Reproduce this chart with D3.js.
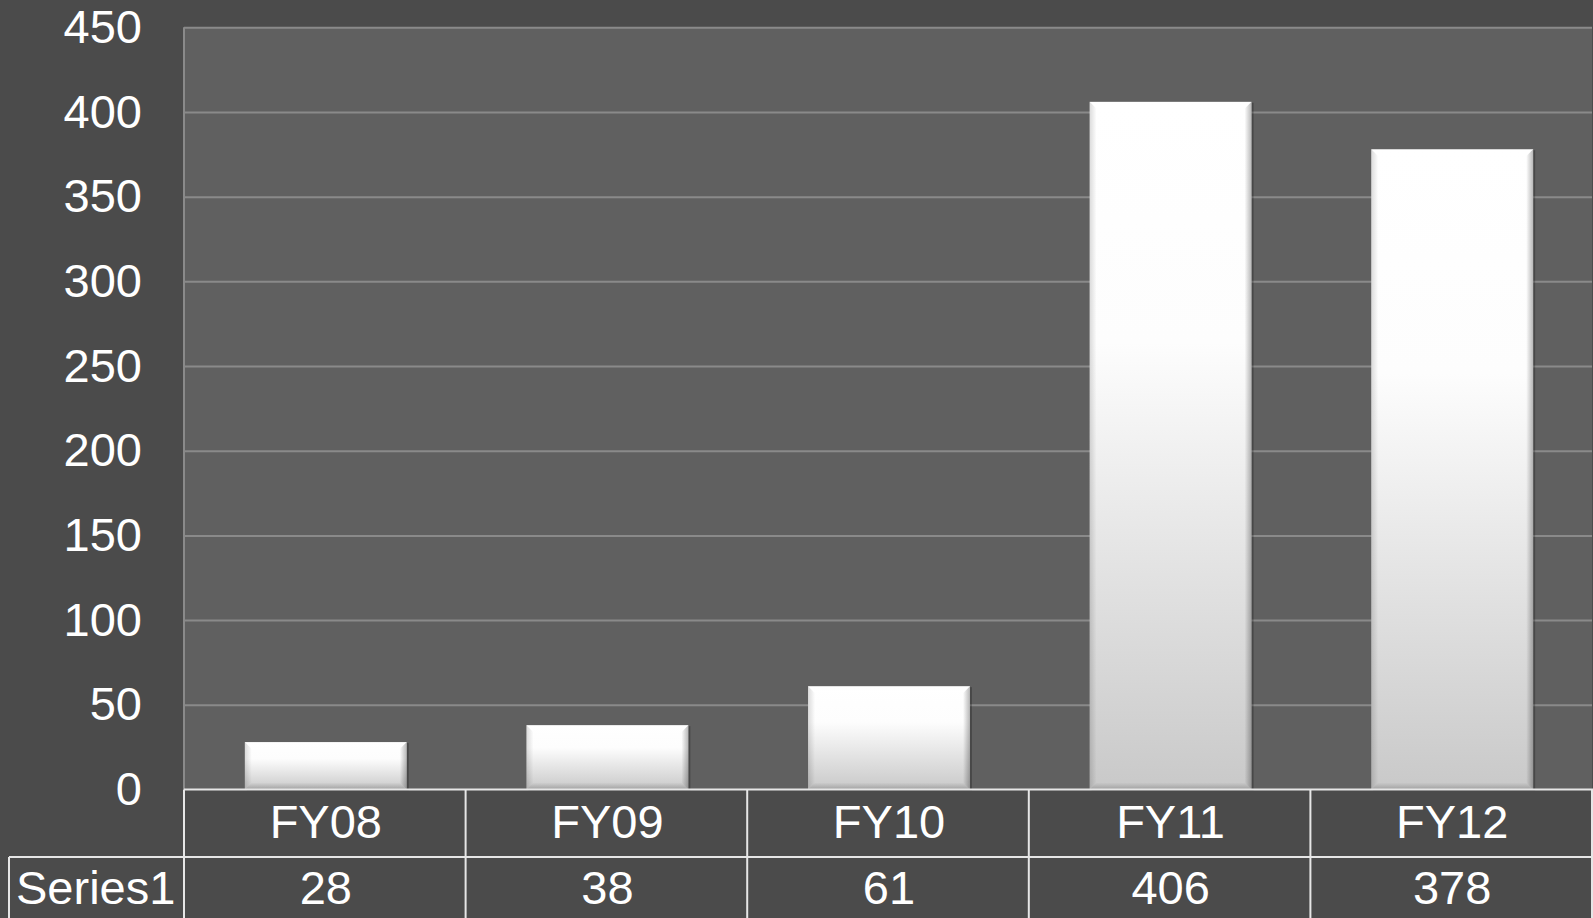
<!DOCTYPE html>
<html>
<head>
<meta charset="utf-8">
<script src="https://cdn.jsdelivr.net/npm/d3@7"></script>
<style>
  html, body { margin: 0; padding: 0; background: #4b4b4b; overflow: hidden; }
  svg { display: block; font-family: "Liberation Sans", Arial, sans-serif; }
</style>
</head>
<body>
<svg id="chart" width="1593" height="918"></svg>
<script>
// chart data
const categories = ['FY08', 'FY09', 'FY10', 'FY11', 'FY12'];
const values = [28, 38, 61, 406, 378];
const seriesName = 'Series1';
const yTicks = [0, 50, 100, 150, 200, 250, 300, 350, 400, 450];

const W = 1593, H = 918;
const plot = { left: 184, right: 1592, top: 27.3, bottom: 789.5 };
const tableRow = 67.5; // height of each table row

const svg = d3.select('#chart');

// background
svg.append('rect').attr('width', W).attr('height', H).attr('fill', '#4b4b4b');

const defs = svg.append('defs');
const grad = defs.append('linearGradient').attr('id', 'barFill')
  .attr('x1', 0).attr('y1', 0).attr('x2', 0).attr('y2', 1);
grad.append('stop').attr('offset', '0%').attr('stop-color', '#ffffff');
grad.append('stop').attr('offset', '35%').attr('stop-color', '#fdfdfd');
grad.append('stop').attr('offset', '100%').attr('stop-color', '#c9c9c9');

const sideL = defs.append('linearGradient').attr('id', 'sideL');
sideL.append('stop').attr('offset', '0%').attr('stop-color', '#000').attr('stop-opacity', 0.14);
sideL.append('stop').attr('offset', '100%').attr('stop-color', '#000').attr('stop-opacity', 0);
const sideR = defs.append('linearGradient').attr('id', 'sideR');
sideR.append('stop').attr('offset', '0%').attr('stop-color', '#000').attr('stop-opacity', 0);
sideR.append('stop').attr('offset', '100%').attr('stop-color', '#000').attr('stop-opacity', 0.28);
const sideB = defs.append('linearGradient').attr('id', 'sideB')
  .attr('x1', 0).attr('y1', 0).attr('x2', 0).attr('y2', 1);
sideB.append('stop').attr('offset', '0%').attr('stop-color', '#000').attr('stop-opacity', 0);
sideB.append('stop').attr('offset', '100%').attr('stop-color', '#000').attr('stop-opacity', 0.2);

// scales
const x = d3.scaleBand().domain(categories)
  .range([plot.left + 1, plot.right + 1]).paddingInner(0.425).paddingOuter(0.2125);
const y = d3.scaleLinear().domain([0, 450]).range([plot.bottom, plot.top]);

// plot area
svg.append('rect')
  .attr('x', plot.left).attr('y', plot.top)
  .attr('width', plot.right - plot.left).attr('height', plot.bottom - plot.top)
  .attr('fill', '#606060');

// gridlines
svg.append('g')
  .attr('transform', `translate(${plot.left},0)`)
  .call(d3.axisLeft(y).tickValues(yTicks.slice(1)).tickSize(-(plot.right - plot.left)).tickFormat(''))
  .call(g => g.select('.domain').remove())
  .call(g => g.selectAll('line').attr('stroke', '#8a8a8a').attr('stroke-width', 2));

// left plot border
svg.append('line')
  .attr('x1', plot.left).attr('x2', plot.left)
  .attr('y1', plot.top).attr('y2', plot.bottom)
  .attr('stroke', '#8a8a8a').attr('stroke-width', 2);

// y tick labels
svg.append('g')
  .attr('transform', `translate(${plot.left - 42},0)`)
  .call(d3.axisLeft(y).tickValues(yTicks).tickSize(0).tickPadding(0))
  .call(g => g.select('.domain').remove())
  .call(g => g.selectAll('text')
    .attr('fill', '#ffffff').attr('font-size', 47)
    .attr('font-family', '"Liberation Sans", Arial, sans-serif'));

// bars with bevel
const bars = svg.append('g').selectAll('g.bar')
  .data(categories.map((c, i) => ({ c, v: values[i] })))
  .join('g').attr('class', 'bar');

const bw = x.bandwidth();
const bev = 7;
bars.append('rect')
  .attr('x', d => x(d.c) + 2).attr('y', d => y(d.v) + 1)
  .attr('width', bw).attr('height', d => y(0) - y(d.v))
  .attr('fill', '#000').attr('opacity', 0.25);
bars.append('rect')
  .attr('x', d => x(d.c)).attr('y', d => y(d.v))
  .attr('width', bw).attr('height', d => y(0) - y(d.v))
  .attr('fill', 'url(#barFill)');
bars.append('polygon')
  .attr('points', d => {
    const x0 = x(d.c), y0 = y(d.v), y1 = y(0);
    return [[x0, y0], [x0 + bev, y0 + bev], [x0 + bev, y1 - bev], [x0, y1]].join(' ');
  })
  .attr('fill', 'url(#sideL)');
bars.append('polygon')
  .attr('points', d => {
    const x1 = x(d.c) + bw, y0 = y(d.v), y1 = y(0);
    return [[x1, y0], [x1 - bev, y0 + bev], [x1 - bev, y1 - bev], [x1, y1]].join(' ');
  })
  .attr('fill', 'url(#sideR)');
bars.append('polygon')
  .attr('points', d => {
    const x0 = x(d.c), x1 = x0 + bw, y1 = y(0);
    return [[x0, y1], [x0 + bev, y1 - bev], [x1 - bev, y1 - bev], [x1, y1]].join(' ');
  })
  .attr('fill', 'url(#sideB)');

// data table
const step = x.step();
const t0 = plot.bottom, t1 = t0 + tableRow, t2 = H + 2;
const table = svg.append('g');
const lineCol = '#e6e6e6';

table.append('line').attr('x1', plot.left).attr('x2', plot.right + 2)
  .attr('y1', t0).attr('y2', t0);
table.append('line').attr('x1', 9).attr('x2', plot.right + 2)
  .attr('y1', t1).attr('y2', t1);
table.append('line').attr('x1', 9).attr('x2', 9).attr('y1', t1).attr('y2', t2);
table.selectAll('line.col')
  .data(d3.range(categories.length + 1))
  .join('line').attr('class', 'col')
  .attr('x1', i => plot.left + i * step).attr('x2', i => plot.left + i * step)
  .attr('y1', t0).attr('y2', t2);
table.selectAll('line').attr('stroke', lineCol).attr('stroke-width', 2);

table.selectAll('text.cat')
  .data(categories).join('text').attr('class', 'cat')
  .attr('x', c => x(c) + bw / 2).attr('y', t0 + 48)
  .attr('text-anchor', 'middle')
  .text(c => c);
table.selectAll('text.val')
  .data(categories.map((c, i) => ({ c, v: values[i] }))).join('text').attr('class', 'val')
  .attr('x', d => x(d.c) + bw / 2).attr('y', t1 + 47)
  .attr('text-anchor', 'middle')
  .text(d => d.v);
table.append('text')
  .attr('x', 16).attr('y', t1 + 47)
  .text(seriesName);
table.selectAll('text').attr('fill', '#ffffff').attr('font-size', 47);
</script>
</body>
</html>
